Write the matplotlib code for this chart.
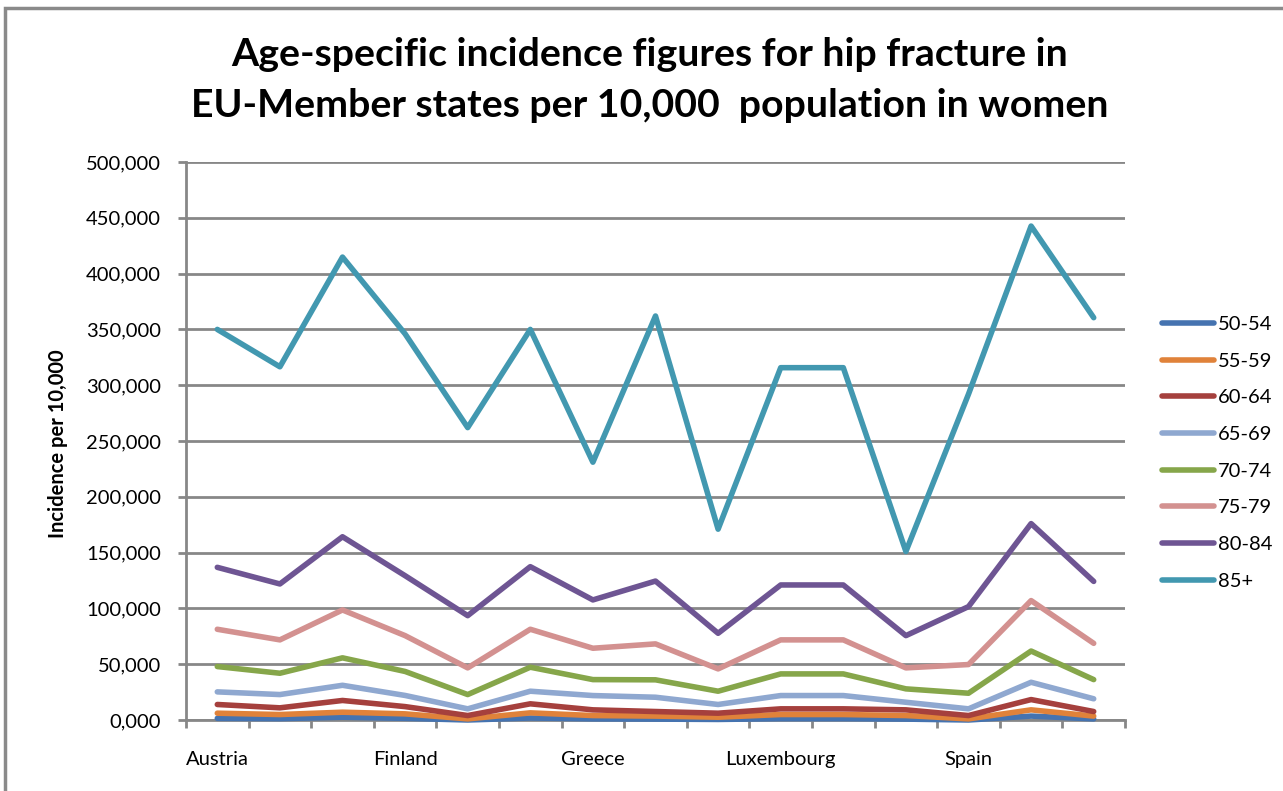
import matplotlib
matplotlib.use("Agg")

import matplotlib.pyplot as plt
from matplotlib.patches import Rectangle
from matplotlib.ticker import FixedLocator, FuncFormatter

# ─── data ────────────────────────────────────────────────────
COUNTRIES = ["Austria", "Belgium", "Denmark", "Finland", "France",
             "Germany", "Greece", "Ireland", "Italy", "Luxembourg",
             "Netherlands", "Portugal", "Spain", "Sweden", "UK"]

AGE_GROUPS = ["50-54", "55-59", "60-64", "65-69", "70-74", "75-79", "80-84", "85+"]

inc_50_54 = [1500, 1200, 2500, 1500, 0, 1800, 1000, 800, 500, 1200, 1200, 800, 0, 3500, 1000]
inc_55_59 = [6100, 4900, 7000, 5500, 1000, 6400, 4000, 3500, 2500, 4900, 4900, 4000, 1000, 9100, 3500]
inc_60_64 = [13900, 10900, 17500, 12000, 4000, 14500, 9100, 7600, 6100, 10000, 10000, 9100, 4000, 18300, 7600]
inc_65_69 = [25200, 22800, 31100, 22000, 10000, 25800, 21900, 20400, 13900, 21900, 21900, 15900, 10000, 33800, 19000]
inc_70_74 = [47900, 41900, 55700, 43500, 22800, 47300, 36200, 36000, 25800, 41300, 41300, 27900, 24000, 61800, 36200]
inc_75_79 = [81300, 71800, 98600, 75600, 46700, 81300, 64300, 68200, 45800, 71800, 71800, 46700, 49700, 107000, 68700]
inc_80_84 = [136800, 121900, 164200, 129300, 93500, 137400, 107600, 124500, 77700, 121000, 121000, 75600, 101600, 176000, 124200]
inc_85_plus = [350000, 316500, 414800, 346000, 262000, 350000, 231000, 362000, 171000, 315700, 315700, 151000, 292000, 442600, 360500]

SERIES = [inc_50_54, inc_55_59, inc_60_64, inc_65_69,
          inc_70_74, inc_75_79, inc_80_84, inc_85_plus]

COLORS = ["#4573B0", "#E0823A", "#A5403D", "#8FA8D0",
          "#86A64A", "#D39190", "#6E5593", "#4298B0"]

LABELED = ["Austria", "Finland", "Greece", "Luxembourg", "Spain"]

# ─── layout (pixel based, 1283x791 at 100 dpi) ───────────────
W, H = 1283, 791
GRID = "#878787"
FONT = "Lato"


def main():
    plt.rcParams["font.family"] = [FONT, "DejaVu Sans"]
    fig = plt.figure(figsize=(W / 100, H / 100), dpi=100, facecolor="white")

    # outer chart frame (runs off the right / bottom edge)
    fig.patches.append(Rectangle((5 / W, -0.1), 1.2, (H - 8) / H + 0.1,
                                 transform=fig.transFigure, fill=False,
                                 edgecolor="#8a8a8a", lw=2.5))

    left, right, top, bottom = 186, 1125, 162, 720
    ax = fig.add_axes([left / W, (H - bottom) / H,
                       (right - left) / W, (bottom - top) / H])

    x = list(range(len(COUNTRIES)))
    for vals, lab, col in zip(SERIES, AGE_GROUPS, COLORS):
        ax.plot(x, vals, color=col, lw=4.0, label=lab,
                solid_capstyle="round", solid_joinstyle="round",
                clip_on=False, zorder=3)

    ax.set_xlim(-0.5, len(COUNTRIES) - 0.5)
    ax.set_ylim(0, 500000)

    # y axis
    ax.set_yticks(range(0, 500001, 50000))
    ax.yaxis.set_major_formatter(FuncFormatter(lambda v, p: f"{int(v // 1000)},000"))
    ax.grid(axis="y", color=GRID, lw=2, zorder=1)
    ax.tick_params(axis="y", direction="out", length=6, width=2, color=GRID,
                   labelsize=14.5, pad=12)

    # x axis: ticks at category boundaries, every third label
    ax.xaxis.set_major_locator(FixedLocator([i - 0.5 for i in range(len(COUNTRIES) + 1)]))
    ax.xaxis.set_major_formatter(FuncFormatter(lambda v, p: ""))
    lab_pos = [COUNTRIES.index(c) for c in LABELED]
    ax.xaxis.set_minor_locator(FixedLocator(lab_pos))
    ax.set_xticklabels(LABELED, minor=True)
    ax.tick_params(axis="x", which="major", direction="out", length=6, width=2,
                   color=GRID)
    ax.tick_params(axis="x", which="minor", length=0, labelsize=14.5, pad=22)

    for side in ("top", "right"):
        ax.spines[side].set_visible(False)
    for side in ("left", "bottom"):
        ax.spines[side].set_color(GRID)
        ax.spines[side].set_linewidth(2)
        ax.spines[side].set_zorder(2)

    ax.set_ylabel("Incidence per 10,000", fontsize=14.5, fontweight="bold")
    ax.yaxis.set_label_coords(-118 / (right - left), 0.495)

    fig.text(650 / W, 1 - 80 / H,
             "Age-specific incidence figures for hip fracture in\n"
             "EU-Member states per 10,000  population in women",
             ha="center", va="center", fontsize=28.3, fontweight="bold",
             linespacing=1.55)

    leg = ax.legend(loc="upper left", bbox_to_anchor=(1144 / W, 1 - 298 / H),
                    bbox_transform=fig.transFigure, frameon=False,
                    fontsize=14.5, handlelength=2.6, handletextpad=0.15,
                    labelspacing=0.97)
    for line in leg.get_lines():
        line.set_linewidth(4.0)

    fig.savefig("out.png", dpi=100, facecolor="white")
    plt.close(fig)


if __name__ == "__main__":
    main()
